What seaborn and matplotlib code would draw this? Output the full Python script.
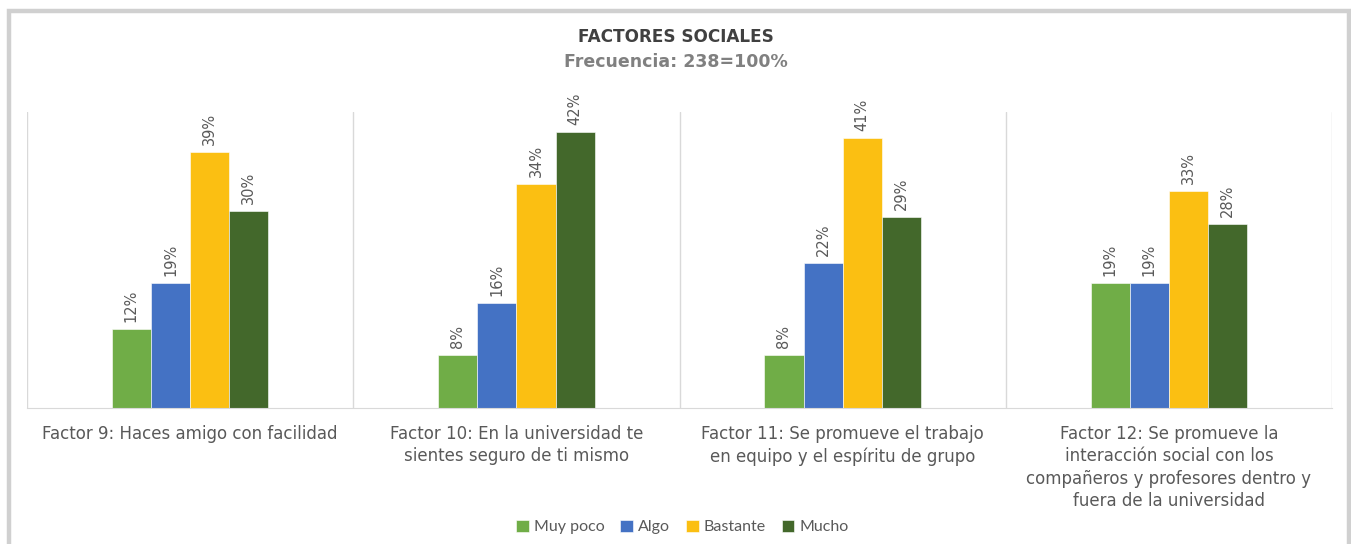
import numpy as np
import pandas as pd
import seaborn as sns
import matplotlib.pyplot as plt
from matplotlib.patches import Rectangle

# Data
factores = [
    "Factor 9: Haces amigo con facilidad",
    "Factor 10: En la universidad te\nsientes seguro de ti mismo",
    "Factor 11: Se promueve el trabajo\nen equipo y el espíritu de grupo",
    "Factor 12: Se promueve la\ninteracción social con los\ncompañeros y profesores dentro y\nfuera de la universidad",
]
niveles = ["Muy poco", "Algo", "Bastante", "Mucho"]
muy_poco = [12, 8, 8, 19]
algo = [19, 16, 22, 19]
bastante = [39, 34, 41, 33]
mucho = [30, 42, 29, 28]
colores = ["#70AD47", "#4472C4", "#FBBF12", "#43682B"]

df = pd.DataFrame({"Factor": factores, "Muy poco": muy_poco, "Algo": algo,
                   "Bastante": bastante, "Mucho": mucho})
long_df = df.melt(id_vars="Factor", var_name="Nivel", value_name="Porcentaje")

sns.set_style("white")
plt.rcParams["font.family"] = ["DejaVu Sans"]

fig = plt.figure(figsize=(13.51, 5.44), dpi=100)
ax = fig.add_axes([0.02, 0.25, 0.966, 0.544])

sns.barplot(data=long_df, x="Factor", y="Porcentaje", hue="Nivel",
            hue_order=niveles, order=factores, palette=colores,
            saturation=1, width=0.48, edgecolor="white", linewidth=0.4,
            ax=ax)

for cont in ax.containers:
    ax.bar_label(cont, labels=[f"{int(v)}%" for v in cont.datavalues],
                 rotation=90, padding=5, fontsize=10.5, color="#595959")

ax.set_xlim(-0.5, 3.5)
ax.set_ylim(0, 45)
ax.set_yticks([])
ax.set_xlabel("")
ax.set_ylabel("")

# category gridlines between groups
ax.set_xticks(np.arange(-0.5, 4.0, 1.0), minor=True)
ax.grid(which="minor", axis="x", color="#D9D9D9", linewidth=1)
ax.tick_params(axis="x", which="both", length=0, pad=12, labelsize=12,
               labelcolor="#595959")
for lbl in ax.get_xticklabels():
    lbl.set_linespacing(1.32)
    lbl.set_verticalalignment("top")

for s in ["top", "left", "right"]:
    ax.spines[s].set_visible(False)
ax.spines["bottom"].set_color("#D9D9D9")

ax.legend_.remove()
handles, labels = ax.get_legend_handles_labels()
fig.legend(handles, labels, loc="center", bbox_to_anchor=(0.505, 0.031),
           ncol=4, frameon=False, handlelength=0.8, handleheight=0.8,
           handletextpad=0.3, columnspacing=1.0,
           prop={"family": "Lato", "size": 11.5}, labelcolor="#595959")

fig.text(0.5, 0.932, "FACTORES SOCIALES", ha="center", va="center",
         fontsize=12.2, fontweight="bold", color="#404040")
fig.text(0.5, 0.886, "Frecuencia: 238=100%", ha="center", va="center",
         fontsize=12.5, fontweight="bold", color="#808080")

# chart border
fig.patches.append(Rectangle((9 / 1351, -0.05), 1339.5 / 1351, 1 - 11 / 544 + 0.05,
                             transform=fig.transFigure, fill=False,
                             edgecolor="#D0D0D0", linewidth=3.2))

fig.savefig("out.png", dpi=100)
